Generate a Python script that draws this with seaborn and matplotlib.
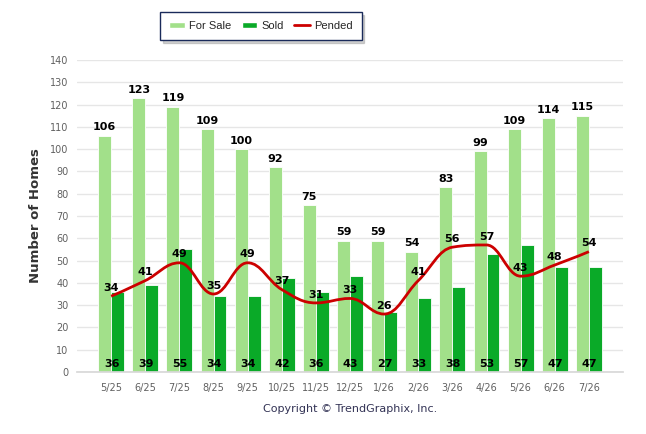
import numpy as np
import pandas as pd
import matplotlib
matplotlib.use("Agg")
import matplotlib.pyplot as plt
from matplotlib.path import Path
from matplotlib.patches import PathPatch, Patch
from matplotlib.lines import Line2D
import seaborn as sns

# ----------
# Chart data
# ----------
months = ["5/25", "6/25", "7/25", "8/25", "9/25", "10/25", "11/25", "12/25",
          "1/26", "2/26", "3/26", "4/26", "5/26", "6/26", "7/26"]
for_sale = [106, 123, 119, 109, 100, 92, 75, 59, 59, 54, 83, 99, 109, 114, 115]
sold = [36, 39, 55, 34, 34, 42, 36, 43, 27, 33, 38, 53, 57, 47, 47]
pended = [34, 41, 49, 35, 49, 37, 31, 33, 26, 41, 56, 57, 43, 48, 54]

c_sale = "#a2e08a"
c_sold = "#0aaa28"
c_pend = "#cc0000"

sns.set_theme(style="white")
plt.rcParams["font.family"] = ["DejaVu Sans"]

df = pd.DataFrame({"month": months, "For Sale": for_sale, "Sold": sold})
long = df.melt(id_vars="month", var_name="kind", value_name="homes")

fig = plt.figure(figsize=(6.46, 4.34), dpi=100)
ax = fig.add_axes([77 / 646, 1 - 372 / 434, 546 / 646, 312 / 434])

sns.barplot(data=long, x="month", y="homes", hue="kind", ax=ax,
            palette=[c_sale, c_sold], width=0.76, dodge=True, saturation=1,
            edgecolor="white", linewidth=0.6, legend=False)

# spline for pended, highcharts-style bezier control points
x = np.arange(len(pended), dtype=float)
y = np.array(pended, dtype=float)
sm = 1.5
den = sm + 1
lc = [None] * len(x)
rc = [None] * len(x)
for i in range(len(x)):
    if i == 0 or i == len(x) - 1:
        lc[i] = (x[i], y[i])
        rc[i] = (x[i], y[i])
        continue
    lx = (sm * x[i] + x[i - 1]) / den
    ly = (sm * y[i] + y[i - 1]) / den
    rx = (sm * x[i] + x[i + 1]) / den
    ry = (sm * y[i] + y[i + 1]) / den
    corr = ((ry - ly) * (rx - x[i])) / (rx - lx) + y[i] - ry
    ly += corr
    ry += corr
    if ly > y[i - 1] and ly > y[i]:
        ly = max(y[i - 1], y[i]); ry = 2 * y[i] - ly
    elif ly < y[i - 1] and ly < y[i]:
        ly = min(y[i - 1], y[i]); ry = 2 * y[i] - ly
    if ry > y[i + 1] and ry > y[i]:
        ry = max(y[i + 1], y[i]); ly = 2 * y[i] - ry
    elif ry < y[i + 1] and ry < y[i]:
        ry = min(y[i + 1], y[i]); ly = 2 * y[i] - ry
    lc[i] = (lx, ly)
    rc[i] = (rx, ry)

verts = [(x[0], y[0])]
codes = [Path.MOVETO]
for i in range(1, len(x)):
    verts += [rc[i - 1], lc[i], (x[i], y[i])]
    codes += [Path.CURVE4] * 3
ax.add_patch(PathPatch(Path(verts, codes), facecolor="none",
                       edgecolor=c_pend, lw=2, zorder=5))

# labels
lab = dict(ha="center", va="bottom", fontsize=8, fontweight="bold",
           color="black", zorder=6)
for i in range(len(months)):
    ax.text(i - 0.19, for_sale[i] + 1.5, str(for_sale[i]), **lab)
    ax.text(i + 0.02, 1.2, str(sold[i]), **lab)
    ax.text(i, pended[i] + 1.5, str(pended[i]), **lab)

ax.set_xlim(-1, 15)
ax.set_ylim(0, 140)
ax.set_yticks(np.arange(0, 141, 10))
ax.yaxis.grid(True, color="#e6e6e6", lw=1)
ax.set_axisbelow(True)
for s in ["top", "right", "left"]:
    ax.spines[s].set_visible(False)
ax.spines["bottom"].set_color("#d8d8d8")
ax.tick_params(axis="y", labelsize=7, labelcolor="#606060", length=0, pad=6)
ax.tick_params(axis="x", labelsize=7, labelcolor="#606060", length=0, pad=8)
ax.set_xlabel("")
ax.set_ylabel("Number of Homes", fontsize=9.5, fontweight="bold",
              color="#333333", labelpad=6)

fig.text(350 / 646, 1 - 409 / 434, "Copyright \u00a9 TrendGraphix, Inc.",
         ha="center", va="center", fontsize=8, color="#333355")

handles = [Patch(facecolor=c_sale, label="For Sale"),
           Patch(facecolor=c_sold, label="Sold"),
           Line2D([], [], color=c_pend, lw=2, label="Pended")]
leg = fig.legend(handles=handles, loc="center", ncol=3,
                 bbox_to_anchor=(261 / 646, 1 - 26 / 434), frameon=True,
                 prop={"family": "Liberation Sans", "size": 8},
                 handlelength=1.4, handleheight=0.55,
                 columnspacing=0.9, handletextpad=0.4, borderpad=0.8,
                 borderaxespad=0, fancybox=False,
                 shadow={"ox": 2, "oy": -2, "alpha": 0.35, "color": "gray"})
leg.get_frame().set_edgecolor("#1a2a5a")
leg.get_frame().set_linewidth(1)

fig.savefig("out.png", dpi=100)
